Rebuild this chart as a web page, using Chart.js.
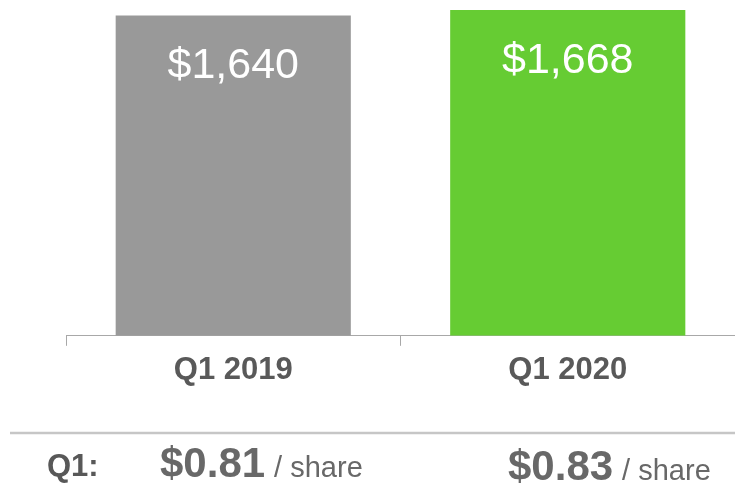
<!DOCTYPE html>
<html>
<head>
<meta charset="utf-8">
<script src="https://cdn.jsdelivr.net/npm/chart.js@4"></script>
<style>
  html, body { margin: 0; padding: 0; background: #fff; }
  #wrap { width: 735px; height: 495px; position: relative; }
</style>
</head>
<body>
<div id="wrap"><canvas id="revChart"></canvas></div>
<script>
// data
const quarters = ["Q1 2019", "Q1 2020"]
const revenue = [1640, 1668]
const barColors = ["#999999", "#66cc33"]
const epsValues = ["$0.81", "$0.83"]
const epsRowLabel = "Q1:"
const epsUnit = "/ share"

const fontFam = "'Liberation Sans', Arial, sans-serif"

// white $ labels inside the bars
const barLabels = {
  id: "barLabels",
  afterDatasetsDraw(chart) {
    const ctx = chart.ctx
    const meta = chart.getDatasetMeta(0)
    ctx.save()
    ctx.fillStyle = "#ffffff"
    ctx.font = "43px " + fontFam
    ctx.textAlign = "center"
    ctx.textBaseline = "middle"
    meta.data.forEach((bar, i) => {
      ctx.fillText("$" + revenue[i].toLocaleString("en-US"), bar.x, bar.y + 51)
    })
    ctx.restore()
  }
}

// separator line + EPS row under the axis
const epsRow = {
  id: "epsRow",
  afterDraw(chart) {
    const ctx = chart.ctx
    ctx.save()
    ctx.strokeStyle = "#c6c6c6"
    ctx.lineWidth = 2.5
    ctx.beginPath()
    ctx.moveTo(10, 433)
    ctx.lineTo(735, 433)
    ctx.stroke()

    ctx.textBaseline = "alphabetic"
    ctx.textAlign = "left"
    ctx.fillStyle = "#585858"
    ctx.font = "bold 31px " + fontFam
    ctx.fillText(epsRowLabel, 47, 476)

    const starts = [160, 508]
    const bases = [477, 480]
    epsValues.forEach((v, i) => {
      ctx.fillStyle = "#686868"
      ctx.font = "bold 42px " + fontFam
      ctx.fillText(v, starts[i], bases[i])
      const w = ctx.measureText(v).width
      ctx.font = "29px " + fontFam
      ctx.fillText(epsUnit, starts[i] + w + 9, bases[i])
    })
    ctx.restore()
  }
}

new Chart(document.getElementById("revChart"), {
  type: "bar",
  data: {
    labels: quarters,
    datasets: [{
      data: revenue,
      backgroundColor: barColors,
      borderWidth: 0,
      barPercentage: 0.703,
      categoryPercentage: 1
    }]
  },
  options: {
    responsive: true,
    maintainAspectRatio: false,
    animation: false,
    layout: { padding: { left: 66, right: 0, top: 10, bottom: 100 } },
    plugins: { legend: { display: false }, tooltip: { enabled: false } },
    scales: {
      y: { display: false, min: 0, max: 1668 },
      x: {
        border: { display: true, color: "#a8a8a8", width: 1 },
        grid: {
          offset: true,
          drawOnChartArea: false,
          drawTicks: true,
          tickLength: 10,
          color: "#a8a8a8"
        },
        ticks: {
          color: "#595959",
          padding: 6,
          font: { family: fontFam, size: 31, weight: "bold" }
        }
      }
    }
  },
  plugins: [barLabels, epsRow]
})
</script>
</body>
</html>
